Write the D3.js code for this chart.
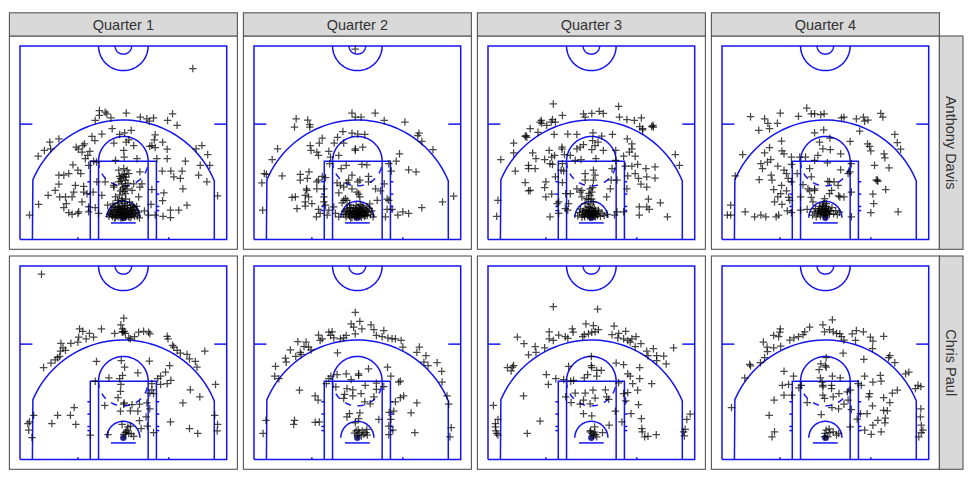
<!DOCTYPE html>
<html>
<head>
<meta charset="utf-8">
<script src="https://cdn.jsdelivr.net/npm/d3@7"></script>
<style>
  html, body { margin: 0; background: #fff; }
  svg { display: block; font-family: "Liberation Sans", Arial, sans-serif; }
</style>
</head>
<body>
<script>
var quarters = ["Quarter 1", "Quarter 2", "Quarter 3", "Quarter 4"];
var players = ["Anthony Davis", "Chris Paul"];

// shot positions in feet: [x from centre of the hoop, y from the baseline]
var davisQ1 = [[16.8,41.5],[-5.8,31.3],[-4.4,30.9],[-4,30.5],[-3,29.5],[-5.8,30.1],[-6.8,28.9],[.7,30.7],[4.1,29.7],[5.7,29.3],[6.3,28.7],[7.3,29.5],[11.9,30.5],[10.7,28.9],[13,27.7],[-2.7,26.9],[-5.2,25.6],[-7.6,25],[-6.9,24],[-.9,25.5],[.3,25.9],[1.9,26.5],[-15.6,24.4],[-17.8,23.6],[-17.6,22],[-19.1,21.6],[-20.6,20.2],[-11.4,22.4],[-10.9,21.9],[-9.4,23.2],[-9.8,22.8],[-10,21.2],[-8.1,21.4],[-8.6,20.4],[-9.2,19.6],[-2.3,23.4],[.7,23.6],[2.5,22.8],[1.3,24.2],[7.7,25.4],[7.5,24.2],[9.5,23.6],[6.4,22.6],[6.9,22.8],[7.7,22.3],[10.6,21.9],[19,22.8],[17.6,22],[20.4,20.6],[18.6,18],[20.9,18],[15,19],[18.2,15.6],[20.2,14],[22.8,10.6],[8.1,19.6],[10.6,19.6],[3.3,19.6],[.2,20],[.1,21.6],[-1.9,19.2],[-6.5,18.8],[-7.2,19],[-8.4,18],[-12.2,18.1],[-11,16.8],[-10.3,16],[-13.2,16],[-14.4,15.6],[-15.6,15.6],[-15.6,13.4],[-16.5,11.9],[-18.2,10.7],[-20.5,8.5],[-22.7,5.9],[-11.6,13.1],[-9.6,12.9],[-12,11.5],[-12.4,10.3],[-15.4,10.3],[-14,10.3],[-13.8,8.7],[-14.4,7.7],[-10,9.1],[-9.6,11.5],[-8.8,11.1],[-8.4,7.9],[-6.8,7.7],[-8.4,6.7],[-10.8,6.7],[-12.4,6.1],[-13.2,6.5],[-11,6.3],[-6,6.3],[-7.3,11.5],[-6.4,14],[-5.2,10.7],[-4.4,14],[-2.3,13.1],[11.5,16.6],[12.2,15.2],[13.8,14.8],[14.2,16.6],[9.4,16.6],[14.4,12.3],[9.8,11.3],[9.5,9.4],[15.4,8.3],[13.4,7.1],[11.4,7.1],[11.4,5.3],[9.6,5.6],[6.9,12.1],[6.7,8.5],[5.1,6.9],[6.1,5.9],[7.7,5.9],[4,16.4],[4.5,13.5],[4,12.7],[3.7,10.3],[2.5,13.5],[.9,16.8],[-.3,15.6],[.1,15.2],[-.7,14.8],[.5,14.4],[-1.1,14],[-.3,13.5],[.1,12.7],[.9,12.3],[-.7,11.8],[.5,11.1],[-1.9,10.3],[-.3,9.9],[-1.4,9.5],[1.3,16],[-1.1,16.8],[.1,17.2],[-2.3,12.7],[2.1,11.9],[-3.5,5.6],[-3.1,6.4],[-2.9,7.2],[-2.6,5.5],[-2.4,6.1],[-2.2,6.9],[-2,7.7],[-1.9,5.4],[-1.7,5.9],[-1.6,6.6],[-1.4,7.3],[-1.3,8.1],[-1.1,5.5],[-1,6.2],[-.9,6.9],[-.8,7.6],[-.6,5.2],[-.5,5.8],[-.4,6.5],[-.3,7.1],[-.2,8],[0,5.6],[.1,6.3],[.2,7],[.3,7.6],[.5,5.4],[.6,6],[.7,6.7],[.9,7.4],[1,8.3],[1.2,5.6],[1.3,6.2],[1.5,6.9],[1.7,7.7],[1.8,5.3],[2,5.9],[2.2,6.6],[2.3,7.3],[2.5,8],[2.7,5.6],[2.9,6.3],[3.1,7],[3.4,5.7],[3.6,6.6],[3.2,8],[-3.8,8.3],[-2.5,8.6],[-1.2,8.9],[.2,8.7],[1.5,9.1],[3.9,5.2]];
var davisQ1Rim = [[-3.3,6.1],[-2.8,5.9],[-2.7,6.7],[-2.3,7.9],[-2.1,5.2],[-1.8,7.2],[-1.5,5.7],[-1.2,6.5],[-1,7.8],[-.7,6],[-.6,7],[-.2,5.3],[-.1,6],[-.1,7.4],[.3,6.5],[.4,8.2],[.8,5.7],[1,6.4],[1.1,7.1],[1.4,5.4],[1.6,6.2],[1.9,7],[2.1,8.3],[2.4,6.1],[2.6,7.7],[-.4,9.4],[.6,9.8],[-.9,10.8],[.2,11.6],[-.2,12.2],[.6,13],[-.5,14.2],[.3,15.8],[-.9,15.3],[.7,15.1],[1.1,13.6]];

var davisQ2 = [[-.5,46.2],[-1.3,30.7],[-.5,29.7],[.9,29.7],[4.3,30.7],[6.5,28.9],[11.5,28.5],[-14.8,29.3],[-12,29],[-15.2,27.3],[-11.5,27.9],[-11.5,27.3],[14.9,25.8],[14.6,25.2],[15.6,23.8],[18.3,21.8],[-3.5,26.2],[-1.3,25.8],[.1,25.6],[1.8,25.5],[-4.8,24.8],[-8.5,24.6],[-5.6,23.4],[-3.3,23.4],[-9.2,23.4],[-.5,22],[-.5,21.6],[1.3,22.4],[-11.4,22.8],[-11.2,21.6],[-9.8,21.2],[-9.4,20.4],[-6.9,21.4],[-6.5,20],[-4.5,20.4],[-6.7,18.4],[-19.3,22],[-20.6,19.4],[-22.5,16],[-22,15.8],[-23.1,13.7],[-18.2,15.4],[-22.9,7.1],[10.2,20.8],[9.4,19],[7.6,18.4],[8.2,16.6],[12.4,16.9],[14.2,16.4],[23.3,10.5],[20.6,9.1],[15.6,7.7],[12.4,6.3],[11,6.7],[9.8,5.9],[8.4,7.3],[6.8,5.5],[7.2,7.3],[-3.9,17.2],[-2.7,18],[1.1,18.2],[2.3,18.1],[-11.7,16.4],[-13.8,15.8],[-13.8,14.4],[-12.1,14.8],[-9.4,14.4],[-9.8,14],[-7.7,15],[-8.5,15.3],[-12.3,12.3],[-12.2,11.9],[-9.8,12.3],[-8.1,12.3],[-15.8,10.2],[-15,10.3],[-12.6,10.7],[-11.8,10.3],[-12.6,9.1],[-11,8.7],[-14.6,7.5],[-12.6,8.1],[-9.4,7.3],[-9,6.3],[-9.9,5.5],[-8.1,9.1],[-7.7,8.3],[-6.9,7.1],[-7.3,5.9],[-5.7,7.9],[-5.3,6.3],[-4.5,5.5],[-8.1,10.3],[-4.9,13.7],[-4.1,13.1],[-4.5,11.3],[-3.3,12.7],[-1.3,15.6],[-2.1,14.4],[-2.5,13.7],[.1,14],[.6,14.4],[-1.3,12.3],[-.1,11.5],[.3,11],[.6,10.3],[-2.9,9.9],[-3.3,9.5],[-3.7,8.9],[-2.5,9.5],[2.7,15.3],[2.7,14],[6.5,13.5],[4.4,12.3],[5.6,11.8],[4.8,9.5],[7.2,9.8],[7.6,9.5],[2.3,7.9],[-3.4,6.1],[-3,6.8],[-2.7,5.5],[-2.4,7.4],[-2.2,6.2],[-1.9,5.7],[-1.7,6.8],[-1.5,7.6],[-1.3,5.4],[-1.2,6.3],[-1,7],[-.8,5.9],[-.6,6.6],[-.4,7.5],[-.3,5.5],[-.1,6.2],[.1,6.9],[.2,7.8],[.4,5.8],[.6,6.5],[.8,7.2],[1,5.4],[1.1,6.1],[1.3,6.8],[1.5,7.7],[1.7,5.6],[1.9,6.4],[2.1,7.1],[2.4,5.8],[2.6,6.7],[2.9,7.5],[3.2,6],[3.5,6.9],[3.8,5.5],[-1.9,8.4],[.7,8.5],[3,8.6]];
var davisQ2Rim = [[-2.9,6],[-2.6,7.1],[-2,6.5],[-1.8,7.7],[-1.6,5.2],[-1.4,6.1],[-1.1,6.7],[-.9,7.6],[-.7,5.5],[-.5,6.3],[-.2,7.1],[0,5.9],[.3,6.4],[.5,7.4],[.7,5.7],[.9,6.6],[1.2,7.4],[1.4,6],[1.6,6.9],[2,5.8],[2.3,6.7],[-.3,8.2],[1.1,8.2]];

var davisQ3 = [[-9.2,32.9],[6.6,32.3],[-1.9,30.5],[-1.5,29.7],[.1,30.6],[1.9,31.1],[2.9,30.6],[-7,30.1],[-9.4,29.1],[-8.7,28.5],[-9.7,28.5],[-12.1,28.9],[-12.4,28.5],[-12,28.2],[-10.8,27.7],[6.8,29.7],[8.6,29.1],[10.4,28.9],[12.1,29.5],[11.7,27.4],[12.4,26.6],[12.4,26.9],[14.6,27.4],[15,27.3],[14.9,27.7],[-14.8,26.9],[-12.9,26],[-16,25],[-15.6,24.8],[-15.8,25.2],[-18.8,23.4],[-18.8,21],[-21.9,19.4],[-14.2,21],[-13.4,19.6],[-15.2,18],[-15.2,17.2],[-13.6,17.2],[-18.4,16.6],[-16,13.8],[-15.2,11.8],[-14.8,11.9],[-22.6,9.5],[-22.9,5.6],[-9,25.5],[-5.7,25.6],[-3.5,25.5],[.4,25.9],[2.5,25.1],[5.1,25.5],[.3,24],[1.6,23.6],[.9,22.8],[.1,21.8],[-1.9,23],[-2.7,22.4],[-3.5,22],[-7.1,22.4],[-7.1,21.9],[-6.5,20.6],[-5.1,20.4],[-10.2,21.6],[-8.9,20.4],[-9.6,20],[-11.3,19.4],[-10,18.4],[-9.4,18.2],[8.7,24.4],[9.8,23.2],[9.8,22],[9.2,21.2],[7.8,20.2],[10.6,20.2],[5.9,21.6],[2.9,21.6],[1.1,19.6],[-3.9,19.2],[-2.5,19.4],[5.9,19.2],[20.3,20.6],[21.3,18],[15.4,17.6],[13.2,17.2],[11.2,18.2],[9.8,17.8],[8.2,17.8],[5,17.2],[10.6,16],[8.8,15.4],[11.4,14.8],[15.4,14.9],[13.4,15.2],[12,13.4],[13.4,12.7],[8.6,12.3],[13.8,9.8],[16.7,8.9],[13.4,7.9],[14,7.3],[11.6,7.9],[11.6,5.9],[18.4,5.5],[7.8,6.7],[6.2,6.7],[5.6,5.9],[-7,18.4],[-7.3,16.8],[-6.7,16.6],[-8.7,15.2],[-7,13.8],[-11,14],[-11.3,12.6],[-11,10.3],[-9.6,11],[-7.9,9.1],[-8.3,8.7],[-6.3,7.5],[-5.7,7.1],[-5.5,8.7],[-6.2,11.1],[-5.1,11.1],[-7.9,6.3],[-10,5.5],[-3.5,12.3],[-2.7,11.5],[-1.5,16],[.5,16.8],[.9,15.6],[-1.5,14.4],[.5,14.4],[-.3,12.3],[.1,11.5],[-.3,10.7],[-2.3,10.3],[-1.1,9.9],[.5,9.1],[3.7,10.3],[4.6,12.3],[6.2,14.4],[4.8,14.4],[-1.5,8.7],[1.7,7.1],[-2.3,11.9],[-.7,9.7],[-3.3,5.7],[-2.9,6.5],[-2.6,7.4],[-2.3,5.4],[-2.1,6.1],[-1.8,6.9],[-1.6,5.5],[-1.4,6.4],[-1.1,7.3],[-.9,5.7],[-.7,6.6],[-.5,7.8],[-.3,5.4],[-.1,6.2],[.1,7],[.3,5.7],[.5,6.5],[.7,7.6],[1,5.5],[1.2,6.3],[1.5,5.8],[1.8,6.8],[2.2,5.6],[2.6,6.4],[3.1,5.8],[3.8,6.1]];
var davisQ3Rim = [[-2.1,6.7],[-1.7,5.8],[-1.3,7],[-1,6.1],[-.8,7.9],[-.6,5.9],[-.4,6.8],[-.2,5.6],[0,6.6],[.2,7.5],[.4,6],[.6,6.9],[.8,5.6],[1,7],[1.3,6.1],[-.2,8.6],[.1,9.8],[-.6,11.2],[.3,12.6]];

var davisQ4 = [[-4.5,31.9],[-10.9,30.7],[-18.1,29.8],[-14.7,29.3],[-13.9,28.2],[-11.6,28.2],[-6.5,29.9],[-3.4,30.5],[-2.6,30.5],[-1.1,30.3],[-.3,30.5],[3.9,29.5],[4.5,29.7],[7.5,29.3],[9.2,29.7],[9.5,28.7],[10.3,29],[13.4,30.6],[13.9,29.7],[8.3,26.3],[-16.1,26.5],[-13.5,26.9],[-10.6,23.9],[-13.5,22.3],[-14.7,21],[-20,20.6],[-10.5,21.5],[-10,20.8],[-13.2,19.4],[-14,18.8],[-15.6,18.4],[-15.2,17.2],[-21.8,15.4],[-16,14.5],[-13.1,15.6],[-12.9,14.4],[-11.5,17.8],[-10,16.8],[-9.4,16],[-8.2,18.2],[-8.2,20],[-6.2,20],[-4.8,20],[-1.8,20.4],[-2.6,19.2],[.5,18.6],[-2.6,25.9],[-.4,26.6],[1.1,24.6],[-1.4,23.6],[-.6,22],[1.2,21.8],[3.7,20.8],[6,23.8],[10.2,23.2],[10.7,22.6],[11,21.5],[16.8,25.5],[17.4,23.5],[18.2,21.9],[14.2,20.8],[14.4,19.8],[11.9,18],[15.4,17.4],[6.3,18.4],[3.7,16.9],[5.9,16.4],[5.5,16],[12.6,14.4],[12.7,14.1],[12.3,14.4],[14.6,12.1],[11.5,11],[11.7,8.7],[11,6.5],[17.6,6.7],[6.3,11.5],[6.3,5.5],[3.5,10.3],[-6.8,16],[-3.4,15.2],[-3.8,17.2],[-8.2,14],[-9,14.8],[-12.5,12.1],[-10.6,13.1],[-9.4,11.8],[-10.8,11.1],[-11.5,10.3],[-12.3,9.1],[-8.9,10.2],[-8.6,9.5],[-6,10.3],[-10.5,8.5],[-9.2,6.9],[-8.2,6.5],[-6,7.1],[-4.4,7.3],[-19.4,6.7],[-22.9,8.3],[-23.7,5.9],[-22.9,5.9],[-17.1,5.5],[-15.6,5.9],[-14.4,5.5],[-11.9,5.5],[-11.3,5.9],[-5.4,13.3],[-4.2,12.3],[-2.6,11.9],[-3.8,11.8],[-3.4,10.2],[-3,9.1],[-2.6,12.3],[.6,14.1],[2.1,14],[3.1,13.1],[1.5,11.9],[1,11.1],[-.2,9.9],[3.2,10.6],[4.5,10.3],[1,14],[-3.1,5.9],[-2.7,6.7],[-2.4,7.5],[-2.2,5.5],[-1.9,6.3],[-1.7,7.1],[-1.4,8],[-1.2,5.7],[-1,6.5],[-.8,7.3],[-.6,8.3],[-.4,6],[-.2,6.8],[0,7.6],[.2,5.8],[.4,6.6],[.7,7.4],[1,6.1],[1.3,6.9],[1.6,7.7],[2,6.2],[2.5,7],[2.9,6],[3.4,6.6]];
var davisQ4Rim = [[-1.6,6.7],[-1.3,7.5],[-1.1,6.1],[-.9,6.9],[-.7,7.9],[-.5,6.4],[-.3,7.3],[-.1,6.1],[.1,7.1],[.3,8],[.5,6.3],[.8,7],[-.4,8.8],[.2,8.7]];

var paulQ1 = [[-19.8,45],[.1,34.3],[-.6,32.7],[-.2,31.7],[.2,31.1],[-.1,30.9],[.5,30.6],[-.3,31],[-2.1,30.6],[3.7,30.9],[4.9,31.1],[6.1,30.9],[6.4,30.5],[2.7,29.8],[1.3,29.5],[1.7,29.3],[-5.3,31.7],[-10.6,31.7],[-9.8,31.1],[-8.2,30.6],[-7.2,29.7],[-9,29.3],[-10.8,29.7],[-11,28.5],[-12.7,28.2],[-15.1,28.2],[-14.6,27.1],[-14,26.5],[-15.2,26.3],[-15.4,25],[-15.9,24.7],[-16.5,24.2],[-17.5,23.4],[-19.3,22.3],[10.6,29.9],[10.8,29.3],[11.9,27.7],[12.2,27.3],[13,26.5],[13.8,25.8],[15.4,25.5],[16,24.4],[17.4,23.8],[17.8,22.4],[19.7,26.3],[-6.5,23.8],[-.5,24],[6.3,23.9],[.3,22.4],[3.5,21],[11.2,22.8],[10.2,21.2],[9,20.2],[8.3,19.6],[11.5,19.2],[10.6,18.4],[9,18.2],[6.9,18.4],[6.9,16.9],[6.4,16.1],[7.3,16],[-.2,20.4],[-.9,19.6],[-3.5,19.8],[-6.8,19],[-.6,18.2],[-.7,16.5],[-1.3,15],[22.3,18.2],[16.2,16.9],[18.5,15.2],[14.4,13.7],[5.7,13.7],[6.4,12.3],[.2,13.7],[.1,13.4],[2.1,13.3],[3.9,13.4],[-4.5,13.1],[-11.9,12.6],[-12.8,10.7],[-15.9,10.7],[-21.7,10.7],[-22.7,9.1],[-23.1,8.7],[-22.9,7.1],[-22.1,5.3],[-17.3,8.7],[-11.5,8.5],[-.7,11.7],[1.7,11.8],[3.5,11.7],[5.5,10.3],[3.9,9.4],[-.3,8.5],[5.8,8.1],[4.3,7.5],[1.7,8.1],[7.3,6.5],[11.4,9.1],[16,7.5],[18,6.3],[22.1,10.7],[22.8,8.5],[22.7,6.9],[-8,5.9],[-3.7,6],[.9,7.1],[.5,6.5],[1.3,6.3],[1.9,6.2],[.1,6.1],[.7,6.7],[2.5,5.6],[1.1,7.9]];

var paulQ2 = [[-.5,35.7],[.6,33.5],[-1.5,32.9],[-.9,32.1],[1.1,31.7],[3.3,32.7],[-.5,30.5],[4,31.5],[6.4,31.3],[4.6,30.1],[6,29.8],[7.4,29.5],[8.4,29.3],[9.2,29.3],[10.6,28.9],[11,27.3],[15,27.3],[14.4,26],[16.6,25.2],[16.1,23.6],[17.1,22.8],[19.3,23.5],[20.4,21.4],[20.5,18.8],[21.7,15.4],[22.1,13.4],[22.7,7.7],[22.4,5.5],[-2.7,30.1],[-3.3,29.5],[-4.1,29.3],[-6.1,31],[-6.9,30.9],[-6.5,30.1],[-5.7,29.5],[-9.4,30.2],[-8.5,29.3],[-9,28.9],[-14.4,28.6],[-12.4,28.5],[-12.9,27.4],[-11.8,27.3],[-11.2,26.6],[-16.2,26.6],[-13.8,26],[-14.9,25],[-13.6,25.5],[-17.4,24.6],[-17.2,23.6],[-19.8,22.6],[-20,20.2],[-19,19.6],[-4.8,25.9],[7.3,22.4],[2.7,22],[.3,20.8],[.3,20.4],[8.1,20.2],[-2.7,20.8],[-4.9,20.6],[-6.4,20.2],[-6.9,19.6],[-7.5,18.4],[-1.5,19.4],[-5.2,17.6],[1.9,18],[4.6,18.5],[4.6,17],[6.4,17.7],[10,18.8],[10.4,19],[-2.5,17.2],[-1.1,16.9],[-3.1,15.8],[-1.1,15.4],[.9,16],[-3.3,14.8],[4,15.2],[1.8,14],[3.1,13.5],[-14,16.8],[-10.2,15.4],[-9.5,14.4],[11.2,15.4],[10.4,15],[9.2,14],[14.4,13.7],[13,11.3],[8.8,11.7],[7.7,11.4],[8.1,9.7],[5.2,9.7],[7.6,8.1],[8.6,7.1],[7.6,6],[13.9,6.5],[.6,11.3],[-1.9,11.1],[-2.5,10.3],[.3,9.9],[-.5,8.9],[-15.2,9.5],[-15.4,8.5],[-22.1,9.5],[-22.8,6.3],[-10.2,9],[-9.2,9.1],[-.7,6.4],[-.3,6.9],[.1,5.9],[.5,6.5],[1,5.7],[1.6,6.1],[2.1,6.5],[2.3,7.3],[.2,7.2],[1.2,6.9],[2.4,5.9]];

var paulQ3 = [[-9.2,37.1],[1.5,36.5],[-1.3,32.9],[.5,32.5],[5.5,32.4],[-4.6,31.7],[-10.2,31],[-4.4,30.9],[1.7,31.5],[.9,31],[.1,30.9],[-.7,30.5],[-1.7,30.3],[-2.1,29.8],[-7.9,30.2],[-6.3,29.8],[-5.7,29.4],[-10.2,29.3],[-9.2,28.9],[-17.9,29.7],[-16.3,28.1],[-13.6,27.4],[-11.3,27.1],[-13.4,26],[-15.2,25.4],[5,30.3],[6.6,30.6],[8.3,31.1],[6.4,29.5],[7.8,29.3],[8.8,28.9],[9.4,28.5],[9.8,29.3],[10.8,29.8],[10.6,27.4],[12,28.1],[13.4,26.3],[15,26.9],[13.7,25.2],[15.8,25.2],[17.5,25.1],[15.8,24],[18.1,23.2],[19.9,27.1],[-20.3,22.3],[-19.1,22.4],[-18.8,22.8],[-19.4,21.5],[0,25],[0,22.8],[.1,22.3],[1.3,21.6],[2.4,21.6],[1.3,20.2],[-.9,20.6],[-1.7,19.8],[-5.5,22.6],[-10.9,20.6],[-8.6,19.6],[-10.4,18.2],[-6.7,19.4],[-5,19],[-4.3,19.2],[6,23.4],[7.8,23],[11.7,22.3],[8.8,20.8],[9.4,20.2],[11.7,19.6],[6.6,18.6],[10,18.4],[14.6,18.4],[11.2,16.8],[8.8,16.2],[7.8,16],[.4,16.8],[3.4,16.9],[-3.9,16.1],[-16.4,15.4],[-6.2,15.2],[-4.9,13.8],[-1.5,16.1],[-1.9,14.4],[.9,14.9],[-2.7,13.4],[-.3,13.5],[3.7,15.2],[4.2,14.6],[8.3,14.2],[11.4,13.3],[9.6,11.1],[12.1,9.9],[5.8,11.7],[-1.9,11.1],[.1,10.6],[4.3,8.3],[7.4,9.1],[.8,7.9],[12.2,7.5],[12.3,6.7],[12.9,5.5],[13.7,5.6],[15.7,6],[-12.4,9.3],[-15.5,6.3],[-23.7,13.1],[-22.6,9.7],[-23.2,8.7],[-23.2,7.9],[-23.1,6.9],[-22.9,6.3],[-22.6,5.9],[23.9,11],[23.1,9.7],[22.7,7.3],[22.3,6.7],[22.5,5.7],[-.3,6.7],[.1,6.3],[.5,5.9],[1.3,5.5],[2.7,6.5],[-.2,7],[.8,6.6],[1,6]];

var paulQ4 = [[1.7,33.9],[-.6,32.7],[-.2,31],[1,31.5],[1.9,31],[2.7,30.6],[3.5,30.5],[3.9,29.8],[4.5,29],[7.5,31.3],[6.5,30.5],[9.2,31],[14.1,29.9],[10.9,29.7],[11.5,28.7],[7.3,28.9],[11.4,26.9],[-3.8,32.1],[-5,31],[-5.4,30.3],[-6.5,29.8],[-7.6,29.5],[-8.6,29],[-10.9,31.7],[-11,30.9],[-12.5,30.1],[-11.3,29.8],[-15,28.5],[-14.1,27.3],[-12.5,27.1],[-10.8,27.5],[-14,26.2],[-14.7,24.7],[-15.7,23.5],[-18.3,23.1],[-18.1,22.7],[-19.5,19.8],[15.6,25.2],[15.3,24.7],[16.8,23.5],[4.3,25.8],[9.3,24.3],[.2,24.7],[-1.1,23.2],[0,22.8],[.2,22.4],[-1.5,21.8],[-10,21.4],[-7.7,20.2],[-1.2,19.8],[-.8,18.8],[1.7,20.2],[3.6,19.8],[9.5,20.2],[13.3,20.4],[13.5,19],[11.5,18.8],[19.4,20.8],[20.2,21.2],[22.4,18],[23.1,17.7],[21.8,17.2],[17.4,16.8],[16.2,16.1],[-10.4,18],[-8.9,18.2],[-5.8,18],[-6.4,17.4],[-.6,18],[-.6,17.6],[1.5,18],[1.5,17.2],[8.7,18],[7.9,18.4],[-10,15.6],[-8.1,15.6],[-12.4,14.4],[-4.4,13.8],[-.6,15.6],[-.2,14.8],[1.9,15.2],[3.3,16],[5.3,16.4],[6.1,16.8],[5.5,14.4],[4.5,13.4],[1.6,12.6],[3.2,12.3],[6.3,12.1],[10.7,16],[10.5,15.2],[14.1,15],[15.6,13.8],[11.4,13],[14.1,11.9],[15,11.8],[8.5,11.1],[10.1,11.1],[7.7,9.8],[12.7,9.5],[14.4,8.9],[14.5,10],[11.5,8.3],[6,7.9],[9.5,7.1],[11.1,6.1],[13.5,6.7],[-1,10.9],[-13.6,10.7],[-12.3,6.7],[-12.9,5.5],[-22.7,12.6],[23.1,12.3],[23,10.3],[23.2,8.3],[23.6,7.1],[23.2,6.5],[22.6,5.5],[.2,7.1],[-.1,6.3],[1.1,6.5],[1.9,6.7],[3.2,6.3],[.6,5.5],[2.7,5.9],[-.2,5.5],[.9,7.4]];

var shots = [
    [davisQ1.concat(davisQ1Rim), davisQ2.concat(davisQ2Rim), davisQ3.concat(davisQ3Rim), davisQ4.concat(davisQ4Rim)],
    [paulQ1, paulQ2, paulQ3, paulQ4]
];

var width = 969, height = 485;
var blue = "#1414f0";

var svg = d3.select("body").append("svg")
    .attr("width", width)
    .attr("height", height);

var col = d3.scaleBand().domain(quarters).range([9.4, 939.4]).paddingInner(6 / 234);
var row = d3.scaleBand().domain(players).range([36, 469.3]).paddingInner(6.7 / 220);

var x = d3.scaleLinear().domain([-25, 25]).range([10.6, 217.3]);
var y = d3.scaleLinear().domain([0, 47]).range([203.4, 9.9]);

var line = d3.line().x(function(d) { return x(d[0]); }).y(function(d) { return y(d[1]); });

// points along a circle in court feet, angle 0 = right, 90 = up the court
function arc(cx, cy, r, a0, a1) {
    return d3.range(a0, a1 + 0.01, 3).map(function(a) {
        var t = a * Math.PI / 180;
        return [cx + r * Math.cos(t), cy + r * Math.sin(t)];
    });
}

// plus sign, same as shape 3 in R
var plus = {
    draw: function(ctx, size) {
        var r = Math.sqrt(size) / 2;
        ctx.moveTo(-r, 0); ctx.lineTo(r, 0);
        ctx.moveTo(0, -r); ctx.lineTo(0, r);
    }
};

var threeAngle = Math.acos(22 / 23.75) * 180 / Math.PI;
var courtLines = [
    [[-25, 0], [25, 0], [25, 47], [-25, 47], [-25, 0]],
    [[-8, 0], [-8, 19], [8, 19], [8, 0]],
    [[-6, 0], [-6, 19]],
    [[6, 0], [6, 19]],
    [[-3, 4], [3, 4]],
    [[-25, 28], [-22, 28]],
    [[25, 28], [22, 28]],
    [[-11, 0], [-11, 0.5]],
    [[11, 0], [11, 0.5]],
    arc(0, 19, 6, 0, 180),
    arc(0, 5.25, 4, 0, 180),
    arc(0, 47, 6, 180, 360),
    arc(0, 47, 2, 180, 360),
    [[-22, 0]].concat(arc(0, 5.25, 23.75, threeAngle, 180 - threeAngle).reverse()).concat([[22, 0]])
];
[7, 8, 11, 14].forEach(function(h) {
    courtLines.push([[-8.7, h], [-8, h]]);
    courtLines.push([[8, h], [8.7, h]]);
});

players.forEach(function(player, i) {
    quarters.forEach(function(quarter, j) {
        var g = svg.append("g")
            .attr("transform", "translate(" + col(quarter) + "," + row(player) + ")");

        g.append("rect")
            .attr("width", col.bandwidth())
            .attr("height", row.bandwidth())
            .attr("fill", "#fff")
            .attr("stroke", "#555")
            .attr("stroke-width", 1.1);

        g.selectAll("path.court")
            .data(courtLines)
            .enter()
            .append("path")
            .attr("class", "court")
            .attr("d", line)
            .attr("fill", "none")
            .attr("stroke", blue)
            .attr("stroke-width", 1.5);

        // free throw circle, lower half dashed
        g.append("path")
            .attr("d", line(arc(0, 19, 6, 180, 360)))
            .attr("fill", "none")
            .attr("stroke", blue)
            .attr("stroke-width", 1.5)
            .attr("stroke-dasharray", "6.5,6.5");

        g.append("circle")
            .attr("cx", x(0))
            .attr("cy", y(5.25))
            .attr("r", 3)
            .attr("fill", "#2a2a6e")
            .attr("stroke", blue)
            .attr("stroke-width", 0.6);

        g.selectAll("path.shot")
            .data(shots[i][j])
            .enter()
            .append("path")
            .attr("class", "shot")
            .attr("transform", function(d) { return "translate(" + x(d[0]) + "," + y(d[1]) + ")"; })
            .attr("d", d3.symbol().type(plus).size(56))
            .attr("fill", "none")
            .attr("stroke", "#000")
            .attr("stroke-width", 1.25)
            .attr("opacity", 0.72);
    });

    // row strip on the right
    var sy = row(player);
    svg.append("rect")
        .attr("x", 939.4)
        .attr("y", sy)
        .attr("width", 23.6)
        .attr("height", row.bandwidth())
        .attr("fill", "#d9d9d9")
        .attr("stroke", "#555")
        .attr("stroke-width", 1.1);
    svg.append("text")
        .attr("transform", "translate(951.2," + (sy + row.bandwidth() / 2) + ") rotate(90)")
        .attr("text-anchor", "middle")
        .attr("dominant-baseline", "central")
        .attr("font-size", 14.5)
        .attr("fill", "#333")
        .text(player);
});

quarters.forEach(function(quarter) {
    svg.append("rect")
        .attr("x", col(quarter))
        .attr("y", 12.8)
        .attr("width", col.bandwidth())
        .attr("height", 23.2)
        .attr("fill", "#d9d9d9")
        .attr("stroke", "#555")
        .attr("stroke-width", 1.1);
    svg.append("text")
        .attr("x", col(quarter) + col.bandwidth() / 2)
        .attr("y", 24.6)
        .attr("text-anchor", "middle")
        .attr("dominant-baseline", "central")
        .attr("font-size", 14.5)
        .attr("fill", "#333")
        .text(quarter);
});
</script>
</body>
</html>
